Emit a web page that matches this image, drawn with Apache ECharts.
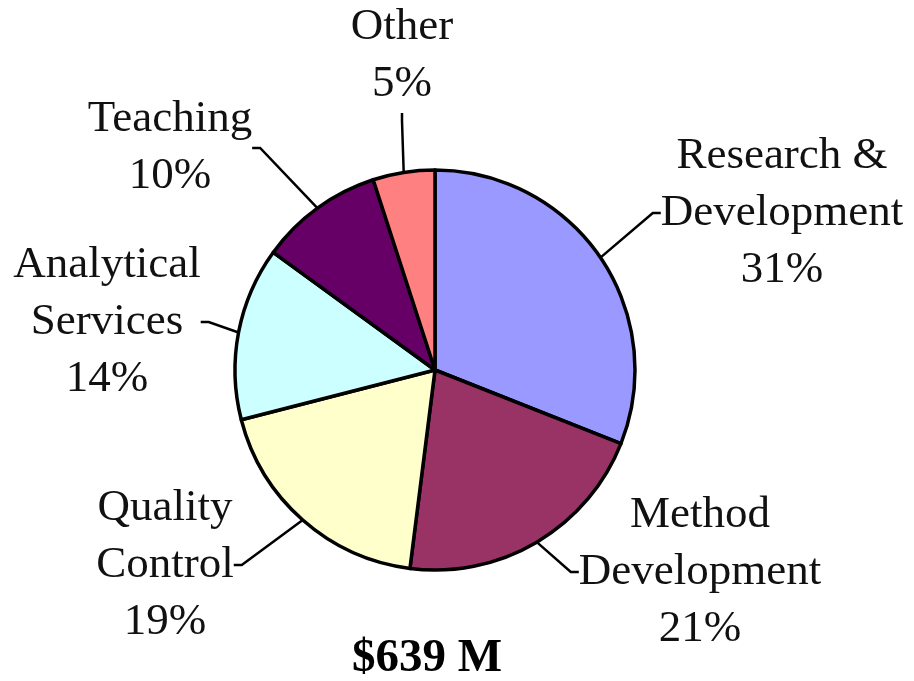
<!DOCTYPE html>
<html>
<head>
<meta charset="utf-8">
<script src="https://cdn.jsdelivr.net/npm/echarts@6/dist/echarts.min.js"></script>
<style>
html,body{margin:0;padding:0;background:#fff;}
#chart{width:914px;height:681px;}
</style>
</head>
<body>
<div id="chart"></div>
<script>
var categories = ['Research &\nDevelopment', 'Method\nDevelopment', 'Quality\nControl', 'Analytical\nServices', 'Teaching', 'Other'];
var shares = [31, 21, 19, 14, 10, 5];
var totalLabel = '$639 M';
var colors = ['#9999FF', '#993366', '#FFFFCC', '#CCFFFF', '#660066', '#FF8080'];

// label centre offsets (style only): where each label block sits
var labelPos = [[782, 213], [700, 572], [165, 565], [107, 322], [170, 148], [402, 56]];

var chart = echarts.init(document.getElementById('chart'));
chart.setOption({
  backgroundColor: '#ffffff',
  animation: false,
  title: {
    text: totalLabel,
    left: 347,
    top: 630,
    textStyle: {fontFamily: 'Liberation Serif', fontWeight: 'bold', fontSize: 47, color: '#000'}
  },
  series: [{
    type: 'pie',
    center: [435, 370],
    radius: 200,
    startAngle: 90,
    clockwise: true,
    avoidLabelOverlap: false,
    data: categories.map(function (c, i) {
      return {name: c, value: shares[i], itemStyle: {color: colors[i]}};
    }),
    itemStyle: {borderColor: '#000', borderWidth: 3.5},
    label: {
      show: true,
      position: 'outside',
      formatter: '{b}\n{d}%',
      fontFamily: 'Liberation Serif',
      fontSize: 45,
      lineHeight: 57,
      color: '#111'
    },
    labelLine: {show: true, length: 20, length2: 8, lineStyle: {color: '#000', width: 2.5}},
    labelLayout: function (p) {
      var pos = labelPos[p.dataIndex];
      return {x: pos[0], y: pos[1], align: 'center', verticalAlign: 'middle'};
    },
    emphasis: {disabled: true}
  }]
});
</script>
</body>
</html>
